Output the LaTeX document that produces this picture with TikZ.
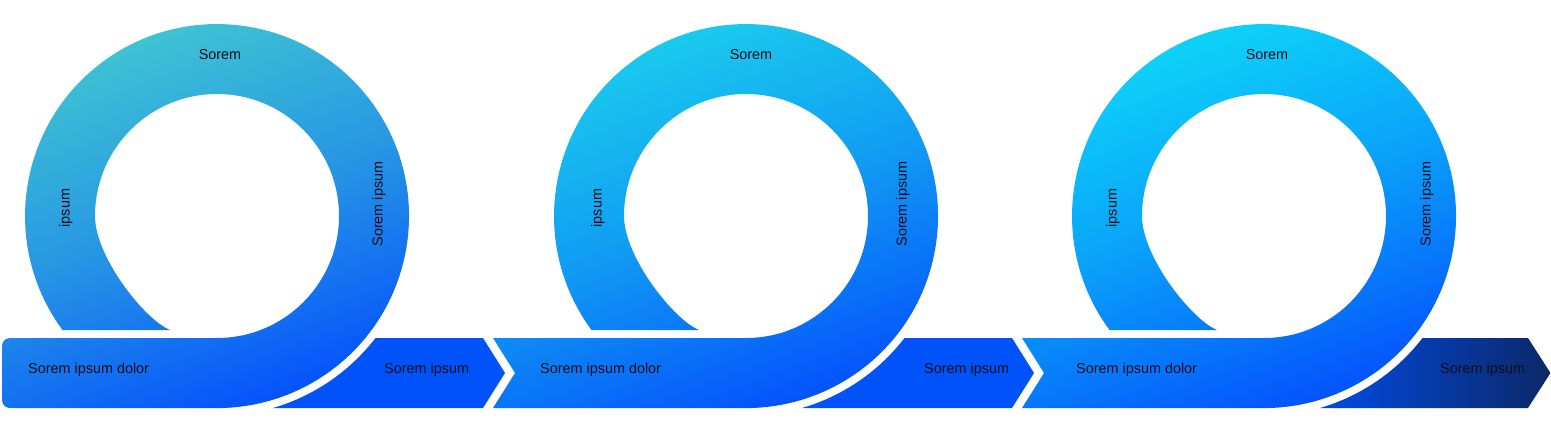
\documentclass[tikz,border=0pt]{standalone}
\usepackage{fontspec}
\setmainfont{Liberation Sans}
\usetikzlibrary{calc}
\definecolor{loopA}{RGB}{65,201,209}
\definecolor{loopB}{RGB}{27,212,236}
\definecolor{loopC}{RGB}{14,220,248}
\definecolor{loopE}{RGB}{4,82,252}
\definecolor{tipB}{RGB}{0,82,250}
\definecolor{tipD}{RGB}{12,40,104}
\definecolor{txt}{RGB}{12,14,26}

\begin{document}
\begin{tikzpicture}[x=1pt,y=1pt,
  lbl/.style={font=\fontsize{14.4}{17}\selectfont,text=txt,inner sep=0pt},
  ring/.style={top color=#1,bottom color=loopE,middle color=#1!58!loopE,shading angle=20}]
\fill[white] (0,0) rectangle (1551,432);
\useasboundingbox (0,0) rectangle (1551,432);
% loops with their bars
\foreach \cx/\bx/\tc in {217/2/loopA,746/493/loopB,1264/1022/loopC}{
  \ifnum\bx=2
    \def\barend{-- (10,24) arc[start angle=270,end angle=180,radius=8] -- (2,86) arc[start angle=180,end angle=90,radius=8]}
  \else
    \def\barend{-- (\bx,24) -- (\bx+22,59) -- (\bx,94)}
  \fi
  \shade[ring=\tc] (\cx-154.5,102) arc[start angle=216.4,end angle=-90,radius=192]
    -- (\cx,24) \barend -- (\cx,94)
    arc[start angle=-90,end angle=180,radius=122]
    .. controls (\cx-122,175) and (\cx-72,112) .. (\cx-47,102) -- cycle;
}
% chevrons
\foreach \cx in {217,746}
  \fill[tipB] (\cx+158.5,94) -- (\cx+266,94) -- (\cx+288,59) -- (\cx+266,24) -- (\cx+56,24)
    arc[start angle=-73.74,end angle=-37.6,radius=200] -- cycle;
\shade[left color=tipB!92!black,right color=tipD] (1422.5,94) -- (1528,94) -- (1550.5,59) -- (1528,24) -- (1320,24)
  arc[start angle=-73.74,end angle=-37.6,radius=200] -- cycle;
% labels
\foreach \n/\tx/\ix/\rx/\dx/\ex in {1/220/66/379/28/384,2/751/598/903/540/924,3/1267/1113/1427/1076/1440}{
  \node[lbl] (top\n) at (\tx,377) {Sorem};
  \node[lbl,rotate=90] (lt\n) at (\ix,224) {ipsum};
  \node[lbl,rotate=90] (rt\n) at (\rx,228) {Sorem ipsum};
  \node[lbl,anchor=west] (bar\n) at (\dx,62) {Sorem ipsum dolor};
  \node[lbl,anchor=west] (tip\n) at (\ex,62) {Sorem ipsum};
}
\end{tikzpicture}
\end{document}
